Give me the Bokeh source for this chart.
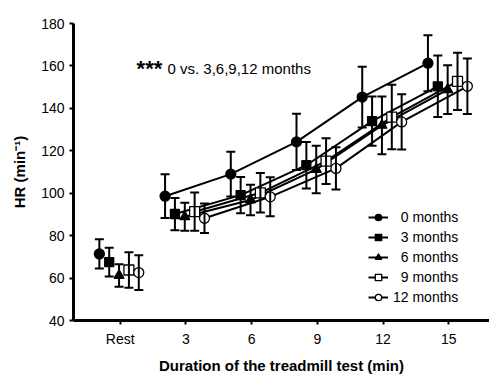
from bokeh.plotting import figure
from bokeh.models import (Range1d, FixedTicker, Whisker, TeeHead, ColumnDataSource,
                          Legend, LegendItem, Label)
from bokeh.embed import file_html
from bokeh.resources import INLINE

# ---- data ----
tick_labels = ["Rest", "3", "6", "9", "12", "15"]
time_pos = [0, 3, 6, 9, 12, 15]
series_names = ["0 months", "3 months", "6 months", "9 months", "12 months"]

hr_0m = [71.4, 98.6, 109.0, 124.2, 145.3, 161.3]
sd_0m = [6.9, 10.3, 10.5, 13.3, 14.3, 13.2]
hr_3m = [67.5, 90.2, 99.1, 113.2, 134.0, 150.4]
sd_3m = [6.8, 7.6, 8.6, 11.0, 11.6, 14.5]
hr_6m = [61.2, 88.9, 96.8, 111.2, 132.0, 148.8]
sd_6m = [5.3, 6.6, 7.2, 11.2, 13.6, 11.5]
hr_9m = [63.8, 91.3, 100.2, 115.1, 135.9, 152.7]
sd_9m = [8.4, 9.0, 9.3, 10.8, 15.2, 13.5]
hr_12m = [62.6, 88.2, 98.3, 111.7, 133.6, 150.4]
sd_12m = [8.2, 7.0, 9.2, 10.0, 13.0, 13.1]

means = [hr_0m, hr_3m, hr_6m, hr_9m, hr_12m]
sds = [sd_0m, sd_3m, sd_6m, sd_9m, sd_12m]

# ---- styles ----
offsets = [-0.95, -0.5, -0.05, 0.4, 0.85]
markers = ["circle", "square", "triangle", "square", "circle"]
fills = ["black", "black", "black", "white", "white"]
msizes = [10, 9, 10, 10, 10]
FONT = "Liberation Sans"

p = figure(width=489, height=376, output_backend="svg", toolbar_location=None,
           x_range=Range1d(-2.13, 16.86), y_range=Range1d(40, 180),
           min_border_left=73, min_border_right=0, min_border_top=23,
           min_border_bottom=55)
p.outline_line_color = None
p.xgrid.grid_line_color = None
p.ygrid.grid_line_color = None
p.background_fill_color = "white"

legend_items = []
for i, name in enumerate(series_names):
    xs = [t + offsets[i] for t in time_pos]
    ys = means[i]
    up = [m + s for m, s in zip(ys, sds[i])]
    lo = [m - s for m, s in zip(ys, sds[i])]
    src = ColumnDataSource(dict(x=xs, y=ys, upper=up, lower=lo))
    line_src = ColumnDataSource(dict(x=xs[1:], y=ys[1:]))
    lr = p.line("x", "y", source=line_src, line_color="black", line_width=2)
    w = Whisker(source=src, base="x", upper="upper", lower="lower",
                line_color="black", line_width=2, level="overlay",
                upper_head=TeeHead(size=9, line_width=2, line_color="black"),
                lower_head=TeeHead(size=9, line_width=2, line_color="black"))
    p.add_layout(w)
    sr = p.scatter("x", "y", source=src, marker=markers[i], size=msizes[i],
                   fill_color=fills[i], line_color="black", line_width=1.3)
    label = name if name.startswith("12") else "\u2007" + name
    legend_items.append(LegendItem(label=label, renderers=[lr, sr]))

legend = Legend(items=legend_items, location=(295, 15), orientation="vertical",
                padding=0, margin=0, spacing=4, glyph_width=20, glyph_height=16,
                label_height=16, label_standoff=5, border_line_color=None,
                background_fill_alpha=0, label_text_font_size="14px",
                label_text_font=FONT, label_text_color="black")
p.add_layout(legend)

# axes
p.xaxis.ticker = FixedTicker(ticks=time_pos)
p.xaxis.major_label_overrides = {t: l for t, l in zip(time_pos, tick_labels)}
p.yaxis.ticker = FixedTicker(ticks=[40, 60, 80, 100, 120, 140, 160, 180])
for ax in (p.xaxis[0], p.yaxis[0]):
    ax.axis_line_width = 3
    ax.axis_line_color = "black"
    ax.major_tick_line_width = 2
    ax.major_tick_line_color = "black"
    ax.major_tick_out = 4
    ax.major_tick_in = 0
    ax.minor_tick_line_color = None
    ax.major_label_text_font = FONT
    ax.major_label_text_font_size = "14px"
    ax.major_label_text_color = "black"
    ax.axis_label_text_font = FONT
    ax.axis_label_text_font_size = "15px"
    ax.axis_label_text_font_style = "bold"
    ax.axis_label_text_color = "black"
p.xaxis.axis_label = "Duration of the treadmill test (min)"
p.yaxis.axis_label = "HR (min\u207b\u00b9)"
p.xaxis.major_label_standoff = 6
p.yaxis.major_label_standoff = 5
p.xaxis.axis_label_standoff = 7
p.yaxis.axis_label_standoff = 10

p.add_layout(Label(x=0.75, y=159.0, text="***", text_font=FONT,
                   text_font_size="22px", text_font_style="bold",
                   text_color="black", text_baseline="alphabetic"))
p.add_layout(Label(x=2.16, y=159.0, text="0 vs. 3,6,9,12 months", text_font=FONT,
                   text_font_size="15px", text_color="black",
                   text_baseline="alphabetic"))

open("out.html", "w").write(file_html(p, INLINE))
